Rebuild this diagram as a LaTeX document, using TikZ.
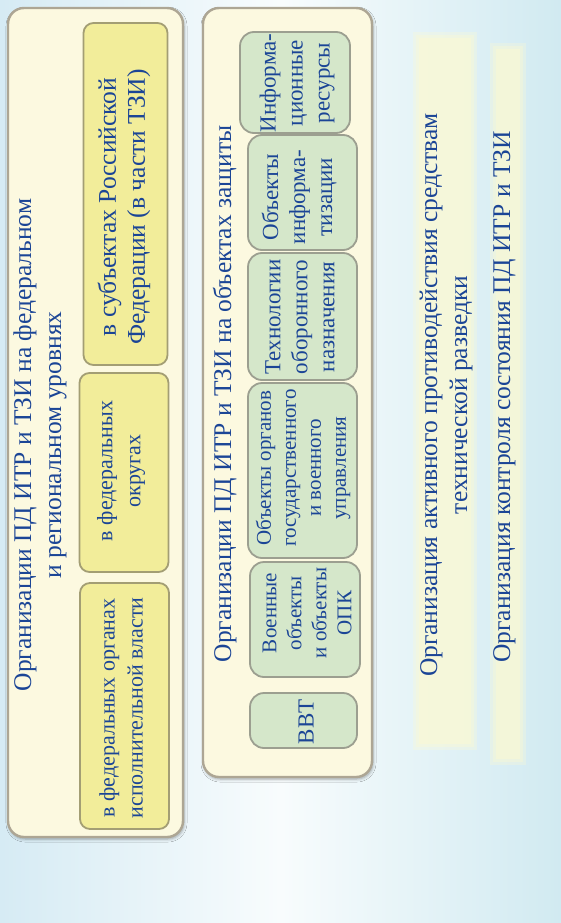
\documentclass[tikz,border=0pt]{standalone}
\usepackage{fontspec}
\setmainfont{Liberation Serif}
\usetikzlibrary{shadows,shadows.blur,fadings}
\definecolor{txt}{HTML}{1B4596}
\definecolor{bgl}{HTML}{D6EBF4}
\definecolor{bgm}{HTML}{F8FCFD}
\definecolor{bgr}{HTML}{D1EAF1}
\definecolor{ofill}{HTML}{FCF9E0}
\definecolor{obord}{HTML}{ADA694}
\definecolor{yfill}{HTML}{F2ED9A}
\definecolor{ybord}{HTML}{A39E74}
\definecolor{gfill}{HTML}{D5E7CA}
\definecolor{gbord}{HTML}{9C9F90}
\definecolor{band}{HTML}{FDFAD2}
\newcommand{\fntT}{\fontsize{25.5}{30}\selectfont}
\newcommand{\fntY}{\fontsize{25.5}{29}\selectfont}
\newcommand{\fntYs}{\fontsize{22}{28}\selectfont}
\newcommand{\fntG}{\fontsize{23}{27}\selectfont}
\newcommand{\fntGs}{\fontsize{21}{25}\selectfont}
\begin{document}
\begin{tikzpicture}[x=1pt,y=-1pt,
  outerbox/.style={draw=obord, line width=2.4pt, fill=ofill, rounded corners=16pt,
    blur shadow={shadow xshift=1pt, shadow yshift=-2pt, shadow blur radius=3pt, shadow opacity=35}},
  ybox/.style={draw=ybord, line width=1.8pt, fill=yfill, rounded corners=10pt},
  gbox/.style={draw=gbord, line width=1.8pt, fill=gfill, rounded corners=14pt},
  lbl/.style={text=txt, rotate=90, align=center, inner sep=0pt},
]
\useasboundingbox (0,0) rectangle (561,923);
\shade[left color=bgl, right color=bgr, middle color=bgm] (0,0) rectangle (561,923);

% soft yellow bands
\foreach \d/\o in {0/0.3,3/0.35,6/0.45}{
  \fill[band, opacity=\o] ({413+\d},{32+\d}) rectangle ({477-\d},{750-\d});
  \fill[band, opacity=\o] ({490+\d},{43+\d}) rectangle ({526-\d},{765-\d});
}

% outer boxes
\node[outerbox, minimum width=175pt, minimum height=829pt] (fed) at (95.5,422.5) {};
\node[outerbox, minimum width=169pt, minimum height=769pt] (obj) at (287.5,392.5) {};

% yellow boxes
\node[ybox, minimum width=84pt, minimum height=342pt] (ya) at (125.5,194) {};
\node[ybox, minimum width=89pt, minimum height=199pt] (yb) at (124,472.5) {};
\node[ybox, minimum width=89pt, minimum height=246pt] (yc) at (124.5,706) {};

% green boxes
\node[gbox, minimum width=110pt, minimum height=101pt] (g1) at (295,82.5) {};
\node[gbox, minimum width=109pt, minimum height=115pt] (g2) at (302.5,192.5) {};
\node[gbox, minimum width=109pt, minimum height=127pt] (g3) at (302.5,316.5) {};
\node[gbox, minimum width=109pt, minimum height=175pt] (g4) at (302.5,470.5) {};
\node[gbox, minimum width=110pt, minimum height=115pt] (g5) at (305,619.5) {};
\node[gbox, minimum width=107pt, minimum height=55pt] (g6) at (303.5,720.5) {};

% titles
\node[lbl, font=\fntT] (fedT) at (40,445) {Организации ПД ИТР и ТЗИ на федеральном\\и региональном уровнях};
\node[lbl, font=\fntT, anchor=base] (objT) at (231,394) {Организации ПД ИТР и ТЗИ на объектах защиты};

% yellow texts
\node[lbl, font=\fntY] (yaT) at (124,207) {в субъектах Российской\\Федерации (в части ТЗИ)};
\node[lbl, font=\fntYs] (ybT) at (121,471) {в федеральных\\округах};
\node[lbl, font=\fntYs] (ycT) at (121,708) {в федеральных органах\\исполнительной власти};

% green texts
\node[lbl, font=\fntG] (g1T) at (297,83) {Информа-\\ционные\\ресурсы};
\node[lbl, font=\fntG] (g2T) at (299,197) {Объекты\\информа-\\тизации};
\node[lbl, font=\fntG] (g3T) at (300,317) {Технологии\\оборонного\\назначения};
\node[lbl, font=\fntGs] (g4T) at (303,468) {Объекты органов\\государственного\\и военного\\управления};
\node[lbl, font=\fntGs] (g5T) at (307,613) {Военные\\объекты\\и объекты\\ОПК};
\node[lbl, font=\fntG] (g6T) at (306,722) {ВВТ};

% bottom texts
\node[lbl, font=\fntT] (actT) at (446,395) {Организация активного противодействия средствам\\технической разведки};
\node[lbl, font=\fntT, anchor=base] (ctlT) at (510,397) {Организация контроля состояния ПД ИТР и ТЗИ};
\end{tikzpicture}
\end{document}
